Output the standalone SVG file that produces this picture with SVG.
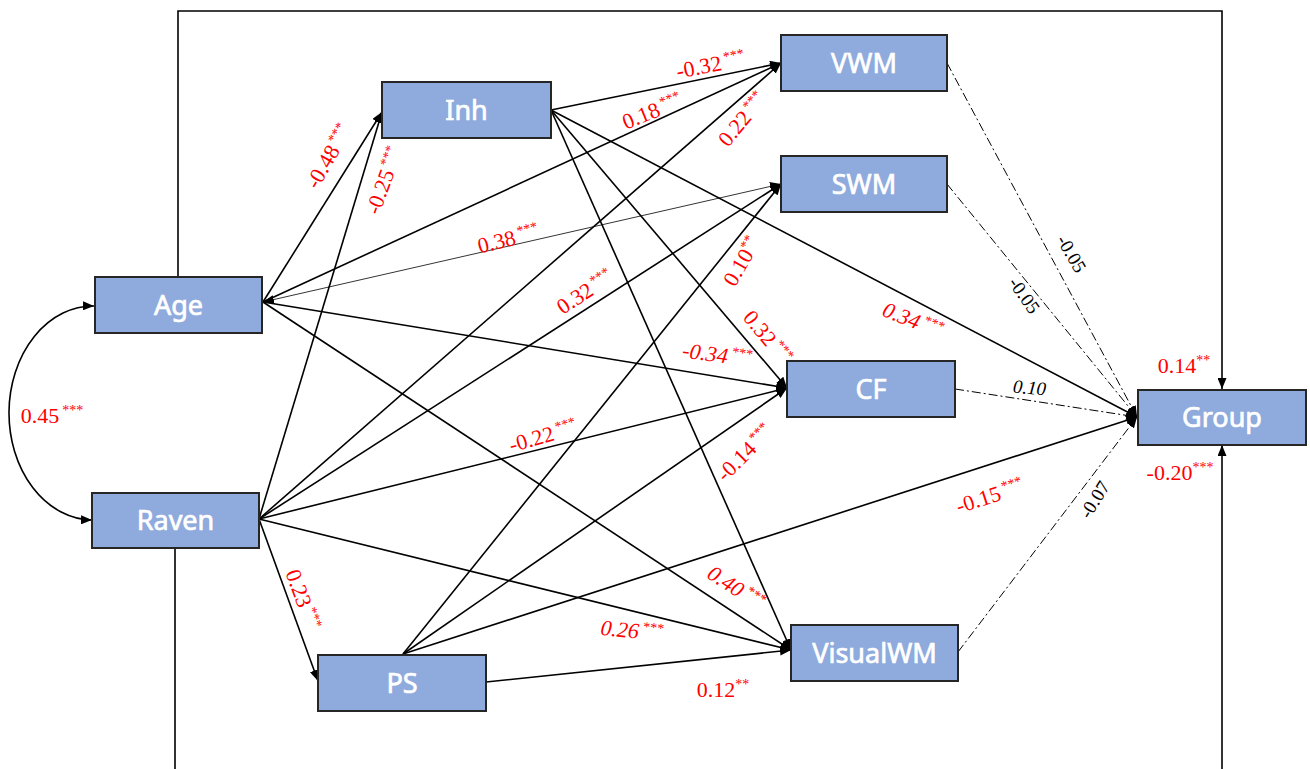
<svg xmlns="http://www.w3.org/2000/svg" width="1310" height="769" viewBox="0 0 1310 769">
<defs>
<marker id="ah" markerUnits="userSpaceOnUse" markerWidth="11" markerHeight="9" refX="11" refY="4.5" orient="auto">
<path d="M0,0 L11,4.5 L0,9 z" fill="#000"/>
</marker>
<marker id="ahs" markerUnits="userSpaceOnUse" markerWidth="11" markerHeight="9" refX="0" refY="4.5" orient="auto">
<path d="M11,0 L0,4.5 L11,9 z" fill="#000"/>
</marker>
<style>
.box{fill:#8FAADC;stroke:#262626;stroke-width:2}
.nt{font-family:"Noto Sans","Liberation Sans",sans-serif;font-size:27px;font-weight:normal;fill:#fff;stroke:#fff;stroke-width:0.7;text-anchor:middle}
.e{fill:none;stroke:#000;stroke-width:1.6;marker-end:url(#ah)}
.thin{fill:none;stroke:#000;stroke-width:0.8;marker-end:url(#ah);marker-start:url(#ahs)}
.dd{fill:none;stroke:#000;stroke-width:1;stroke-dasharray:9 3 2 3;marker-end:url(#ah)}
.r{font-family:"Liberation Serif","Times New Roman",serif;font-size:22px;fill:#ff0000;text-anchor:middle}
.ri{font-style:italic}
.b{font-family:"Liberation Serif","Times New Roman",serif;font-size:19px;fill:#000;text-anchor:middle}
.bi{font-style:italic}
.s{font-size:14px}
</style>
</defs>
<rect width="1310" height="769" fill="#fff"/>
<g id="connectors">
<path class="e" d="M178,277 V11 H1222 V389"/>
<path class="e" d="M175,548 V790 H1222 V445"/>
<path class="e" d="M94,306 A84 107 0 0 0 92,520" marker-start="url(#ahs)"/>
<line class="e" x1="263" y1="302" x2="382" y2="112"/>
<line class="e" x1="259" y1="519" x2="382" y2="112"/>
<line class="e" x1="551" y1="110" x2="781" y2="63"/>
<line class="e" x1="263" y1="302" x2="781" y2="63"/>
<line class="e" x1="259" y1="519" x2="781" y2="63"/>
<line class="thin" x1="263" y1="302" x2="781" y2="184"/>
<line class="e" x1="259" y1="519" x2="781" y2="184"/>
<line class="e" x1="403" y1="654" x2="781" y2="184"/>
<line class="e" x1="551" y1="110" x2="787" y2="388"/>
<line class="e" x1="263" y1="302" x2="787" y2="388"/>
<line class="e" x1="259" y1="519" x2="787" y2="388"/>
<line class="e" x1="403" y1="654" x2="787" y2="388"/>
<line class="e" x1="551" y1="110" x2="791" y2="650"/>
<line class="e" x1="263" y1="302" x2="791" y2="650"/>
<line class="e" x1="259" y1="519" x2="791" y2="650"/>
<line class="e" x1="486" y1="682" x2="791" y2="650"/>
<line class="e" x1="259" y1="519" x2="318" y2="681"/>
<line class="e" x1="551" y1="110" x2="1137" y2="417"/>
<line class="e" x1="403" y1="654" x2="1137" y2="417"/>
<line class="dd" x1="947" y1="63" x2="1137" y2="417"/>
<line class="dd" x1="947" y1="184" x2="1137" y2="417"/>
<line class="dd" x1="955" y1="389" x2="1137" y2="417"/>
<line class="dd" x1="958" y1="652" x2="1137" y2="417"/>
</g>
<g id="labels">
<text class="r" transform="translate(335,160) rotate(-60)">-0.48<tspan class="s" dx="3" dy="-8">***</tspan></text>
<text class="r" transform="translate(391,183) rotate(-70)">-0.25<tspan class="s" dx="3" dy="-8">***</tspan></text>
<text class="r" transform="translate(712,72) rotate(-11)">-0.32<tspan class="s" dx="3" dy="-8">***</tspan></text>
<text class="r" transform="translate(655,118) rotate(-22)">0.18<tspan class="s" dx="3" dy="-8">***</tspan></text>
<text class="r" transform="translate(748,124) rotate(-50)">0.22<tspan class="s" dx="3" dy="-8">***</tspan></text>
<text class="r" transform="translate(510,246) rotate(-14)">0.38<tspan class="s" dx="3" dy="-8">***</tspan></text>
<text class="r" transform="translate(589,298) rotate(-33)">0.32<tspan class="s" dx="3" dy="-8">***</tspan></text>
<text class="r" transform="translate(748,265) rotate(-60)">0.10<tspan class="s" dy="-8">**</tspan></text>
<text class="r" transform="translate(762,342) rotate(50)">0.32<tspan class="s" dx="3" dy="-8">***</tspan></text>
<text class="r ri" transform="translate(716,362) rotate(8)">-0.34<tspan class="s" dx="3" dy="-8">***</tspan></text>
<text class="r" transform="translate(545,443) rotate(-16)">-0.22<tspan class="s" dx="3" dy="-8">***</tspan></text>
<text class="r" transform="translate(750,458) rotate(-45)">-0.14<tspan class="s" dx="3" dy="-8">***</tspan></text>
<text class="r" transform="translate(296,602) rotate(70)">0.23<tspan class="s" dx="3" dy="-8">***</tspan></text>
<text class="r ri" transform="translate(732,594) rotate(33)">0.40<tspan class="s" dx="3" dy="-8">***</tspan></text>
<text class="r ri" transform="translate(631,638) rotate(6)">0.26<tspan class="s" dx="3" dy="-8">***</tspan></text>
<text class="r" transform="translate(723,697)">0.12<tspan class="s" dy="-8">**</tspan></text>
<text class="r ri" transform="translate(910,327) rotate(22)">0.34<tspan class="s" dx="3" dy="-8">***</tspan></text>
<text class="r" transform="translate(992,503) rotate(-18)">-0.15<tspan class="s" dx="3" dy="-8">***</tspan></text>
<text class="r" transform="translate(1184,373)">0.14<tspan class="s" dy="-8">**</tspan></text>
<text class="r" transform="translate(1180,480)">-0.20<tspan class="s" dy="-8">***</tspan></text>
<text class="r" transform="translate(52,423)">0.45<tspan class="s" dx="3" dy="-8">***</tspan></text>
<text class="b" transform="translate(1066,257) rotate(60)">-0.05</text>
<text class="b" transform="translate(1019,299) rotate(55)">-0.05</text>
<text class="b bi" transform="translate(1029,394) rotate(5)">0.10</text>
<text class="b" transform="translate(1100,503) rotate(-58)">-0.07</text>
</g>
<g id="node-age"><rect class="box" x="95" y="277" width="167" height="56"/><text class="nt" x="178.5" y="315">Age</text></g>
<g id="node-raven"><rect class="box" x="92" y="493" width="167" height="55"/><text class="nt" x="175.5" y="530">Raven</text></g>
<g id="node-inh"><rect class="box" x="382" y="82" width="169" height="56"/><text class="nt" x="466.5" y="120">Inh</text></g>
<g id="node-ps"><rect class="box" x="318" y="655" width="168" height="56"/><text class="nt" x="402" y="693">PS</text></g>
<g id="node-vwm"><rect class="box" x="781" y="35" width="166" height="56"/><text class="nt" x="864" y="73">VWM</text></g>
<g id="node-swm"><rect class="box" x="781" y="156" width="166" height="56"/><text class="nt" x="864" y="194">SWM</text></g>
<g id="node-cf"><rect class="box" x="787" y="361" width="168" height="56"/><text class="nt" x="871" y="399">CF</text></g>
<g id="node-visualwm"><rect class="box" x="791" y="625" width="167" height="56"/><text class="nt" x="874.5" y="663">VisualWM</text></g>
<g id="node-group"><rect class="box" x="1138" y="390" width="168" height="55"/><text class="nt" x="1222" y="427">Group</text></g>
</svg>
